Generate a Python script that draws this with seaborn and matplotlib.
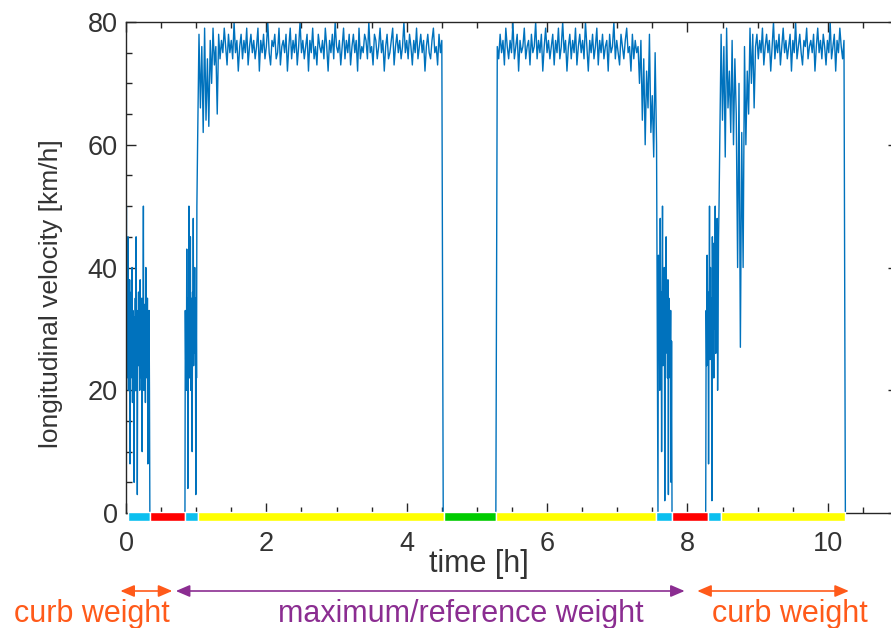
import numpy as np
import pandas as pd
import matplotlib
matplotlib.use("Agg")
import matplotlib.pyplot as plt
from matplotlib.ticker import MultipleLocator
import seaborn as sns

# ---------------- data ----------------
# each driving phase: (t_start [h], t_end [h], velocity samples [km/h])
urban1_span = (0.00, 0.34)
urban1_v = [30, 50, 22, 35, 28, 45, 20, 33, 25, 38, 8, 30, 22, 36, 27, 40, 18, 33, 24, 30,
            5, 32, 26, 35, 20, 45, 28, 33, 3, 30, 24, 36, 27, 33, 20, 38, 26, 30, 22, 35,
            10, 33, 28, 50, 20, 34, 25, 30, 18, 40, 27, 33, 22, 35, 8, 30, 24, 33, 20, 0]
stop1_span = (0.34, 0.84)
stop1_v = [0, 0]
urban2_span = (0.84, 1.01)
urban2_v = [0, 33, 25, 30, 20, 43, 26, 35, 4, 33, 25, 50, 22, 38, 28, 45, 20, 35, 26, 33,
            10, 36, 28, 48, 24, 33, 30, 40, 26, 35, 3, 33, 22, 50]
cruise1_span = (1.02, 4.52)
cruise1_v = [60, 78, 66, 76, 62, 79, 64, 74, 63, 77,
             70, 79, 73, 76, 65, 78, 74, 77, 75, 79,
             76, 73, 78, 75, 77, 74, 80, 75, 77, 72,
             76, 78, 74, 77, 75, 79, 73, 76, 78, 75,
             77, 74, 76, 79, 72, 77, 75, 78, 74, 76,
             80, 75, 73, 77, 76, 78, 74, 75, 79, 73,
             76, 77, 75, 78, 72, 76, 79, 74, 77, 75,
             78, 73, 76, 80, 75, 77, 74, 76, 78, 72,
             77, 75, 79, 74, 76, 73, 78, 76, 75, 77,
             74, 79, 76, 72, 77, 75, 78, 74, 80, 76,
             75, 77, 73, 76, 79, 74, 77, 75, 78, 73,
             76, 78, 75, 77, 72, 79, 74, 76, 75, 78,
             77, 74, 80, 75, 76, 73, 78, 77, 74, 76,
             79, 75, 77, 72, 76, 78, 74, 75, 77, 79,
             73, 76, 78, 75, 77, 74, 76, 80, 75, 77,
             74, 78, 76, 73, 77, 75, 79, 74, 76, 78,
             75, 77, 72, 76, 78, 75, 74, 77, 79, 75,
             76, 73, 78, 75, 77, 0]
stop2_span = (4.52, 5.27)
stop2_v = [0, 0]
cruise2_span = (5.27, 7.58)
cruise2_v = [0, 76, 74, 78, 75, 77, 73, 79, 76, 74,
             77, 75, 80, 74, 76, 78, 72, 77, 75, 76,
             79, 74, 76, 77, 73, 78, 75, 76, 80, 74,
             77, 75, 78, 72, 76, 79, 75, 77, 74, 76,
             78, 73, 77, 75, 79, 74, 76, 80, 75, 77,
             72, 76, 78, 74, 77, 75, 79, 73, 76, 78,
             75, 77, 74, 80, 76, 72, 77, 75, 78, 74,
             76, 79, 73, 77, 75, 78, 74, 76, 77, 72,
             78, 75, 76, 80, 74, 77, 75, 73, 78, 76,
             74, 77, 79, 75, 76, 72, 78, 74, 77, 75,
             76, 70, 77, 64, 74, 60, 72, 66, 78, 62,
             68, 58, 75, 60, 0]
urban3_span = (7.58, 7.78)
urban3_v = [0, 42, 25, 35, 20, 48, 28, 36, 10, 33, 50, 24, 38, 28, 40, 2, 33, 26, 45, 30,
            35, 22, 38, 3, 35, 26, 30, 22, 33, 5, 28, 0]
stop3_span = (7.78, 8.26)
stop3_v = [0, 0]
urban4_span = (8.26, 8.45)
urban4_v = [0, 33, 24, 42, 28, 36, 8, 33, 50, 25, 40, 30, 35, 2, 45, 28, 35, 22, 44, 30,
            50, 26, 38, 30, 48, 20, 33, 45, 50]
transition_span = (8.46, 8.95)
transition_v = [60, 78, 64, 76, 58, 79, 66, 72, 62, 77, 60, 74, 65, 40, 70, 27, 62,
                40, 76, 60, 72, 65, 79, 70, 78, 66]
cruise3_span = (8.97, 10.25)
cruise3_v = [76, 78, 74, 77, 75, 79, 73, 76, 78, 75,
             77, 72, 76, 80, 74, 77, 75, 78, 73, 76,
             79, 75, 77, 74, 76, 78, 72, 77, 75, 80,
             74, 76, 78, 75, 73, 77, 76, 79, 74, 76,
             77, 75, 78, 72, 76, 79, 75, 77, 74, 78,
             76, 73, 77, 75, 80, 74, 76, 78, 72, 77,
             75, 79, 76, 74, 77, 0]

phases = [(urban1_span, urban1_v), (stop1_span, stop1_v), (urban2_span, urban2_v),
          (cruise1_span, cruise1_v), (stop2_span, stop2_v), (cruise2_span, cruise2_v),
          (urban3_span, urban3_v), (stop3_span, stop3_v), (urban4_span, urban4_v),
          (transition_span, transition_v), (cruise3_span, cruise3_v)]

# colored phase bar along the time axis
bar_starts = [0.03, 0.34, 0.84, 1.03, 4.53, 5.27, 7.55, 7.78, 8.29, 8.48]
bar_ends = [0.34, 0.84, 1.03, 4.53, 5.27, 7.55, 7.78, 8.29, 8.48, 10.25]
bar_colors = ["#0BBFEF", "#FF0000", "#0BBFEF", "#FFFF00", "#00CC00",
              "#FFFF00", "#0BBFEF", "#FF0000", "#0BBFEF", "#FFFF00"]

# load annotations (time ranges in h)
load_labels = ["curb weight", "maximum/reference weight", "curb weight"]
load_starts = [-0.08, 0.71, 8.14]
load_ends = [0.66, 7.96, 10.30]
load_text_x = [-0.48, 4.77, 9.46]
load_colors = ["#FF5A1A", "#8B2D91", "#FF5A1A"]

x_ticks = [0, 2, 4, 6, 8, 10]
y_ticks = [0, 20, 40, 60, 80]

# ---------------- build table ----------------
t_all, v_all = [], []
for (t0, t1), vals in phases:
    t_all.extend(np.linspace(t0, t1, len(vals)))
    v_all.extend(vals)
df = pd.DataFrame({"time": t_all, "velocity": v_all})

# ---------------- plot ----------------
sns.set_theme(style="ticks")
plt.rcParams["font.family"] = ["Liberation Sans", "DejaVu Sans"]
text_color = "#333333"

fig = plt.figure(figsize=(8.91, 6.28), dpi=100)
ax = fig.add_axes([126 / 891, 1 - 513 / 628, 772 / 891, 491 / 628])

sns.lineplot(data=df, x="time", y="velocity", ax=ax, sort=False, estimator=None,
             color="#0072BD", linewidth=1.0)

ax.broken_barh([(s, e - s) for s, e in zip(bar_starts, bar_ends)], (-1.3, 1.5),
               facecolors=bar_colors, clip_on=False, zorder=5)

ax.set_xlim(0, 11)
ax.set_ylim(0, 80)
ax.set_xticks(x_ticks)
ax.set_yticks(y_ticks)
ax.xaxis.set_minor_locator(MultipleLocator(0.5))
ax.yaxis.set_minor_locator(MultipleLocator(5))
ax.tick_params(which="both", direction="in", top=True, right=True,
               colors="#262626", labelcolor=text_color, width=1.0)
ax.tick_params(which="major", length=7, labelsize=19.5)
ax.tick_params(which="minor", length=4)
ax.tick_params(axis="x", which="major", pad=13)
ax.tick_params(axis="y", which="major", pad=6)
for sp in ax.spines.values():
    sp.set_color("#262626")
    sp.set_linewidth(1.0)

ax.set_xlabel("time [h]", fontsize=22, color=text_color)
ax.xaxis.set_label_coords(0.457, -0.073)
ax.set_ylabel("longitudinal velocity [km/h]", fontsize=19, color=text_color)
ax.yaxis.set_label_coords(-0.081, 0.447)

arrow_y = 1 - 591 / 628
text_y = 1 - 622 / 628
for lab, s, e, tx, c in zip(load_labels, load_starts, load_ends, load_text_x, load_colors):
    ax.annotate("", xy=(e, arrow_y), xytext=(s, arrow_y),
                xycoords=("data", "figure fraction"), textcoords=("data", "figure fraction"),
                arrowprops=dict(arrowstyle="<|-|>,head_length=0.7,head_width=0.3",
                                color=c, lw=1.2, shrinkA=0, shrinkB=0),
                annotation_clip=False)
    ax.annotate(lab, xy=(tx, text_y), xycoords=("data", "figure fraction"),
                ha="center", va="baseline", fontsize=22, color=c, annotation_clip=False)

fig.savefig("out.png", dpi=100)
